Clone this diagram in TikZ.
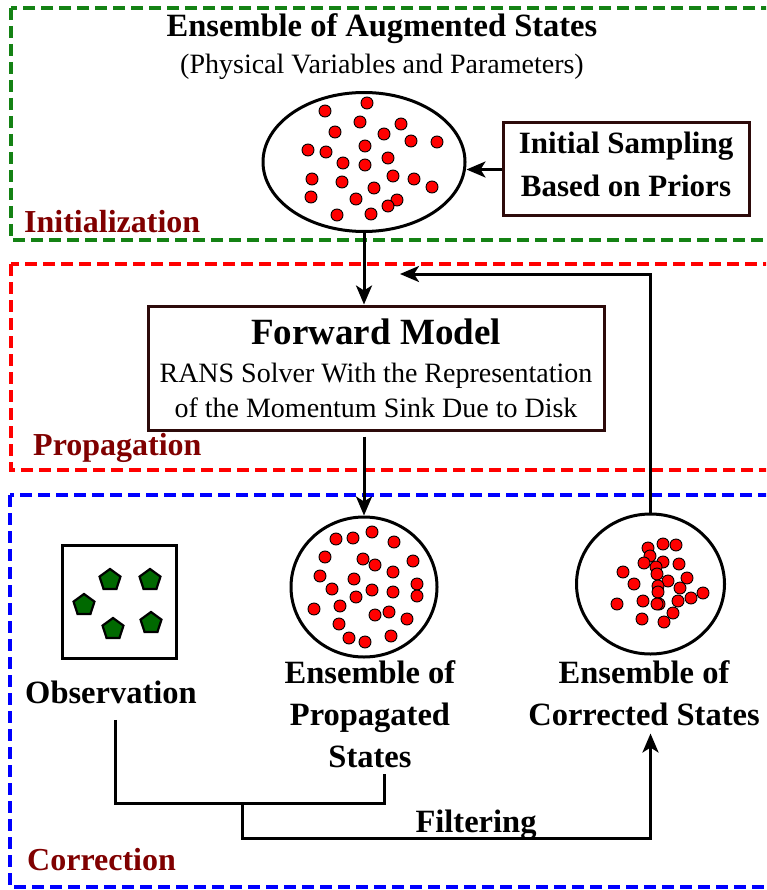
\documentclass[tikz,border=0pt]{standalone}
\usepackage{fontspec}
\setmainfont{Liberation Serif}
\usetikzlibrary{positioning,arrows.meta,shapes.geometric}
\definecolor{grn}{RGB}{20,130,20}
\definecolor{maroon}{RGB}{128,0,0}
\definecolor{bxbrown}{RGB}{45,10,10}
\definecolor{obsgrn}{RGB}{0,105,0}
\tikzset{
  frm/.style={line width=3.4pt,dash pattern=on 12pt off 6pt},
  b/.style={rectangle,draw=bxbrown,line width=3pt,align=center,inner sep=0pt},
  cld/.style={ellipse,draw,line width=3pt,inner sep=0pt},
  dot/.style={fill=red,draw=black,line width=0.9pt},
  pent/.style={regular polygon,regular polygon sides=5,draw,fill=obsgrn,line width=2.2pt,minimum size=22pt,inner sep=0pt},
  lbl/.style={font=\fontsize{32.5}{42}\selectfont\bfseries,align=center,inner sep=2pt},
  stg/.style={font=\fontsize{32}{36}\selectfont\bfseries,text=maroon,inner sep=0pt,anchor=base west},
  arr/.style={-{Stealth[length=19pt,width=16pt,inset=5pt]},line width=3pt},
  ln/.style={line width=3pt},
}

\begin{document}
\begin{tikzpicture}[x=1pt,y=-1pt]
  \clip (0,0) rectangle (766,890);
  \draw[frm,grn] (11,8) rectangle (772,240);
  \draw[frm,red] (11,264) rectangle (772,470);
  \draw[frm,blue] (10,495) rectangle (772,887);

  \node[font=\fontsize{32.5}{36}\selectfont\bfseries,anchor=base] (ttl) at (382,37) {Ensemble of Augmented States};
  \node[font=\fontsize{28}{30}\selectfont,anchor=base] (sub) at (382,74) {(Physical Variables and Parameters)};
  \node[cld,minimum width=202pt,minimum height=139pt] (ens) at (364,162) {};
  \foreach \x/\y in {325/111,367/103,360/122,401/124,335/132,384/134,411/141,437/142,308/150,326/152,365/146,343/163,365/165,
    388/158,312/179,342/182,393/176,414/179,374/188,432/187,311/197,356/199,397/200,388/206,337/215,371/214}
    \draw[dot] (\x,\y) circle[radius=6];
  \node[b,minimum width=246pt,minimum height=93pt,text depth=11pt,font=\fontsize{31}{43}\selectfont\bfseries] (isamp) at (626,169.5) {Initial Sampling\\Based on Priors};
  \draw[arr] (isamp.west) -- (isamp.west -| ens.east);
  \node[stg] (lblinit) at (24,233) {Initialization};

  \node[b,minimum width=456pt,minimum height=124pt,font=\fontsize{28}{35}\selectfont] (fm) at (376,368) {{\fontsize{37}{40}\selectfont\bfseries Forward Model}\\[3pt]RANS Solver With the Representation\\of the Momentum Sink Due to Disk};
  \draw[arr] (ens.south) -- (ens.south |- fm.north);
  \node[stg] (lblprop) at (33,455) {Propagation};

  \node[cld,minimum width=146pt,minimum height=140pt] (prop) at (364,587) {};
  \foreach \x/\y in {336/539,353/538,372/532,394/542,325/557,363/559,375/565,413/561,320/576,354/579,393/572,417/584,332/589,
    372/590,356/597,393/592,417/596,314/609,340/606,375/615,389/612,407/619,339/624,349/638,365/642,391/636}
    \draw[dot] (\x,\y) circle[radius=6];
  \node[cld,minimum width=148pt,minimum height=140pt] (corr) at (650.5,584) {};
  \foreach \x/\y in {648/548,663/544,676/545,650/556,644/563,663/562,656/567,679/564,623/572,657/574,687/578,668/581,634/584,
    658/586,680/588,658/592,703/593,691/598,643/601,678/601,617/604,659/604,657/604,673/613,642/619,664/622}
    \draw[dot] (\x,\y) circle[radius=6];
  \node[b,draw=black,minimum width=114pt,minimum height=113pt] (obs) at (119,601.5) {};
  \foreach \x/\y [count=\i] in {110/580,150/580,84/605,113/629,151/623}
    \node[pent] (p\i) at (\x,\y) {};
  \draw[arr,shorten <=5pt] (fm.south -| prop.north) -- (prop.north);

  \node[lbl,below=19pt of obs,xshift=-8pt] (obsl) {Observation};
  \node[lbl,below=0pt of prop,xshift=6pt] (propl) {Ensemble of\\Propagated\\States};
  \node[lbl,below=3.4pt of corr,xshift=-6.5pt] (corrl) {Ensemble of\\Corrected States};

  \coordinate (ja) at (115,803); \coordinate (jb) at (384,803);
  \coordinate (jm) at (242,803); \coordinate (jf) at (242,838);
  \coordinate (fb) at (400,274);
  \draw[ln,shorten <=14pt,shorten >=4pt] (ja |- obsl.south) -- (ja) -- (jb) -- (jb |- propl.south);
  \draw[arr,shorten >=5pt] (jm) -- (jf) -| (corr |- corrl.south);
  \node[lbl,anchor=base,inner sep=0pt] (filt) at (476,832) {Filtering};
  \draw[arr] (corr.north) |- (fb);
  \node[stg] (lblcorr) at (27,870) {Correction};
\end{tikzpicture}
\end{document}
